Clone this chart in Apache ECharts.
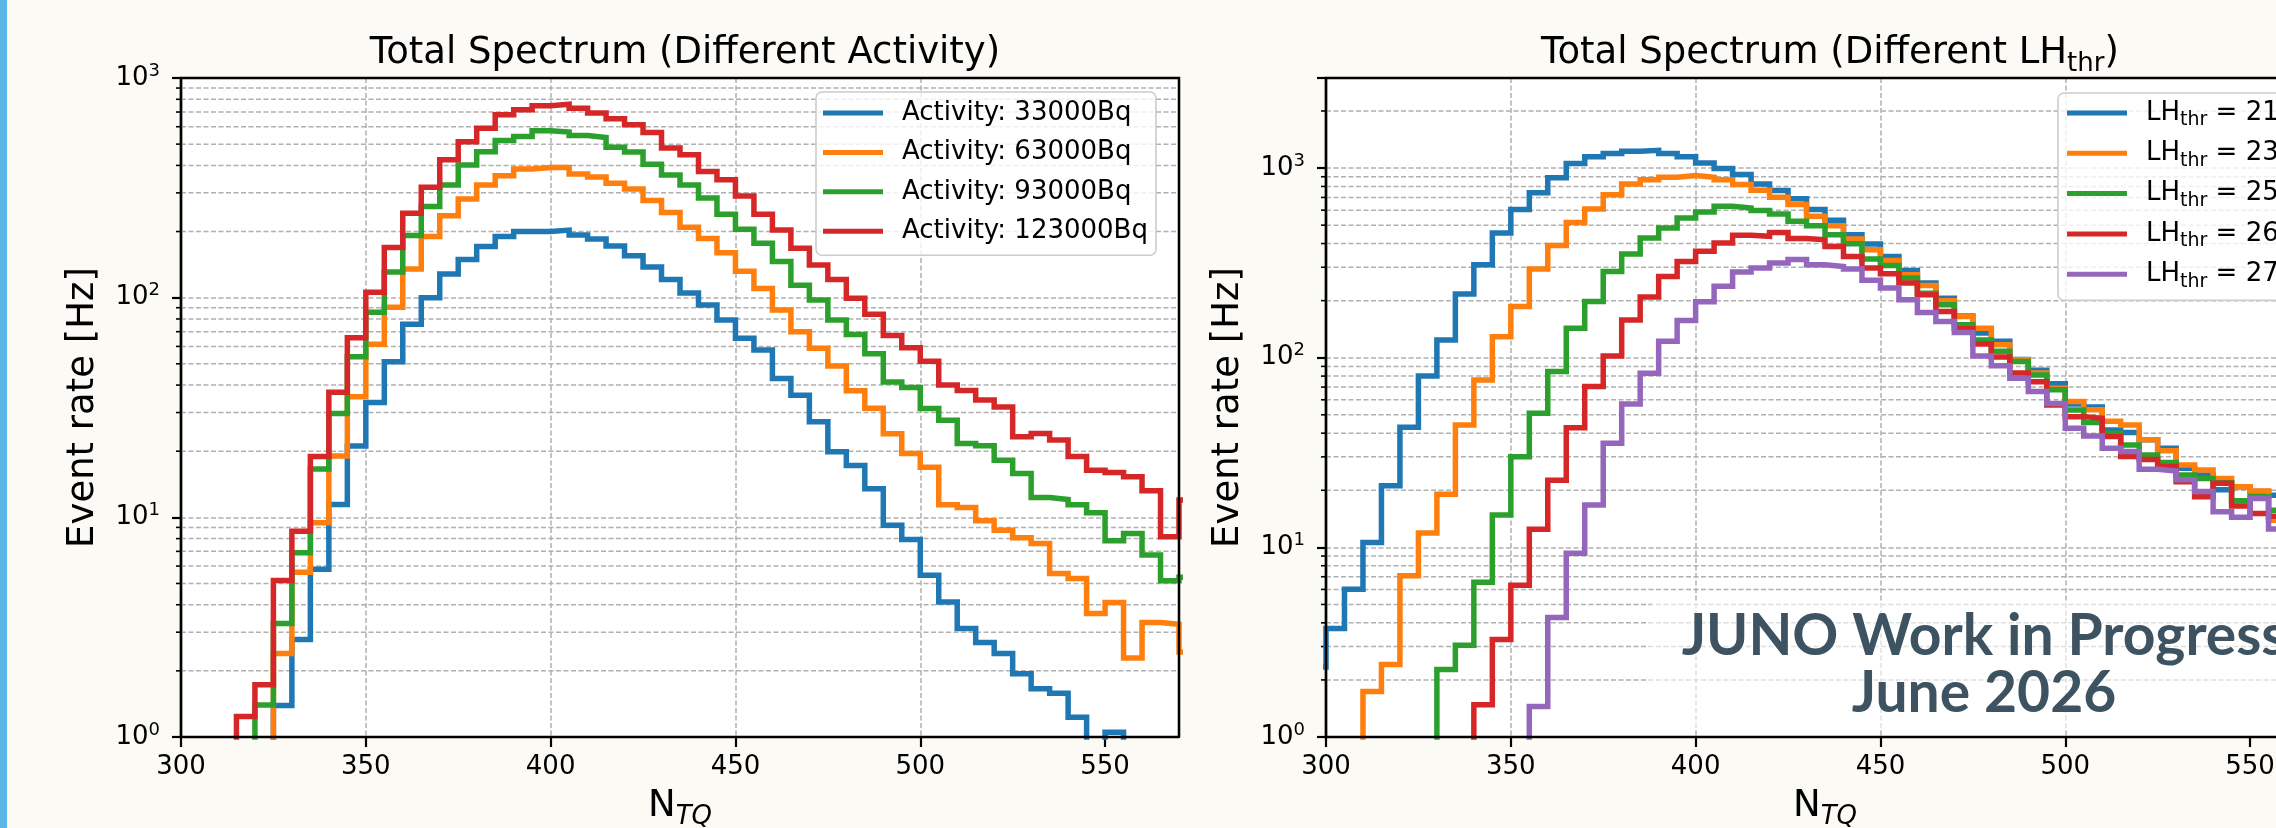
<!DOCTYPE html>
<html>
<head>
<meta charset="utf-8">
<script src="https://cdn.jsdelivr.net/npm/echarts@6/dist/echarts.min.js"></script>
<style>
  html, body { margin: 0; padding: 0; background: #fbfaf4; }
  #chart { width: 2276px; height: 828px; }
</style>
</head>
<body>
<div id="chart"></div>
<script>
// bin edges (N_TQ), one more edge than values to close the last bin
const edgesActivity = [300, 305, 310, 315, 320, 325, 330, 335, 340, 345, 350, 355, 360, 365, 370, 375, 380, 385, 390, 395,
  400, 405, 410, 415, 420, 425, 430, 435, 440, 445, 450, 455, 460, 465, 470, 475, 480, 485, 490, 495,
  500, 505, 510, 515, 520, 525, 530, 535, 540, 545, 550, 555, 560, 565, 570, 575];
const edgesLH = [295, 300, 305, 310, 315, 320, 325, 330, 335, 340, 345, 350, 355, 360, 365, 370, 375, 380, 385, 390, 395,
  400, 405, 410, 415, 420, 425, 430, 435, 440, 445, 450, 455, 460, 465, 470, 475, 480, 485, 490, 495,
  500, 505, 510, 515, 520, 525, 530, 535, 540, 545, 550, 555, 560, 565];

// left panel: event rate per bin [Hz] (0.5 = below the axis)
const activityLabels = ['Activity: 33000Bq', 'Activity: 63000Bq', 'Activity: 93000Bq', 'Activity: 123000Bq'];
const act33000 = [0.5, 0.5, 0.5, 0.5, 0.5, 1.39, 2.78, 5.81, 11.45, 21.1, 33.3, 51.1, 75.7, 100, 128, 149, 171, 190, 200, 200,
  203, 193, 185, 172, 155, 138, 121, 105, 92.6, 79.1, 65.3, 57.8, 42.9, 36.0, 27.2, 19.9, 17.2, 13.5, 9.21, 7.93,
  5.45, 4.12, 3.12, 2.69, 2.40, 1.94, 1.66, 1.58, 1.23, 0.5, 1.05, 0.5, 0.5, 0.5, 0.5];
const act63000 = [0.5, 0.5, 0.5, 0.5, 0.5, 2.40, 5.63, 9.44, 19.0, 35.4, 61.3, 90.4, 135, 190, 236, 281, 326, 359, 385, 391,
  391, 366, 354, 332, 312, 277, 244, 209, 186, 160, 132, 110, 87.9, 70.0, 58.8, 48.8, 37.7, 31.4, 24.0, 19.5,
  16.9, 11.4, 11.1, 9.64, 8.74, 8.07, 7.61, 5.55, 5.27, 3.65, 4.10, 2.29, 3.32, 3.26, 2.44];
const act93000 = [0.5, 0.5, 0.5, 0.5, 1.40, 3.29, 6.89, 16.6, 29.7, 53.9, 85.8, 131, 192, 260, 326, 402, 462, 519, 541, 575,
  567, 547, 536, 484, 460, 405, 362, 326, 284, 240, 205, 177, 146, 114, 97.6, 79.1, 68, 55.5, 41.3, 39,
  31.3, 27.7, 21.7, 21.2, 18.2, 15.85, 12.3, 12.06, 11.4, 10.5, 7.82, 8.45, 6.73, 5.14, 5.34];
const act123000 = [0.5, 0.5, 0.5, 1.24, 1.73, 5.16, 8.65, 18.9, 37.1, 65.7, 105.8, 169, 242, 318, 424, 512, 591, 680, 716, 747,
  760, 729, 692, 652, 612, 565, 480, 447, 375, 344, 290, 240, 203, 168, 141, 121, 99.4, 84, 67.2, 59.2,
  51.3, 40.0, 37.8, 34.2, 31.8, 23.3, 24.1, 22.5, 18.9, 16.4, 16.0, 15.3, 13.2, 8.15, 12.0];

// right panel: event rate per bin [Hz] for the LH thresholds
const lhValues = ['21', '23', '25', '26', '27'];
const lh21 = [2.34, 3.73, 6.02, 10.6, 21.1, 43.0, 80.2, 124, 217, 309, 455, 604, 740, 888, 1056, 1146, 1193, 1226, 1241, 1193,
  1146, 1065, 994, 924, 825, 761, 690, 604, 530, 445, 398, 342, 288, 248, 206, 166, 135, 122, 98, 86,
  73, 57, 55, 41.6, 40.3, 36.9, 33.3, 26.1, 24.1, 20.1, 20.9, 19.7, 18.8, 18.8];
const lh23 = [0.5, 0.5, 0.5, 1.74, 2.41, 7.08, 11.9, 19.05, 44.2, 76.4, 129, 186, 294, 390, 517, 609, 724, 825, 869, 894,
  913, 894, 869, 818, 764, 701, 642, 557, 497, 423, 371, 326, 274, 240, 200, 165, 143, 117, 97.5, 83,
  69, 58.7, 53.1, 46.2, 44.2, 36.9, 32.3, 27.2, 25.6, 23.1, 20.9, 19.8, 13.9, 13.9];
const lh25 = [0.5, 0.5, 0.5, 0.5, 0.5, 0.5, 0.5, 2.27, 3.05, 6.54, 14.8, 30.0, 51.0, 84.6, 143, 198, 285, 352, 428, 483,
  546, 587, 629, 616, 597, 572, 524, 497, 445, 399, 332, 306, 263, 219, 190, 149, 124, 108, 95.5, 81,
  67.7, 53, 45.5, 40.0, 34.7, 30.7, 28.0, 24.1, 23.1, 21.9, 17.6, 18.5, 15.7, 15.7];
const lh26 = [0.5, 0.5, 0.5, 0.5, 0.5, 0.5, 0.5, 0.5, 0.5, 1.48, 3.27, 6.32, 12.45, 22.6, 42.7, 70.5, 102, 158, 209, 268,
  322, 364, 403, 442, 437, 458, 425, 419, 386, 342, 297, 277, 248, 215, 175, 142, 118, 101, 83, 74.8,
  56.4, 48.9, 48.0, 38.4, 30.1, 29.1, 26.7, 22.2, 18.5, 21.8, 16.5, 15.1, 14.6, 14.6];
const lh27 = [0.5, 0.5, 0.5, 0.5, 0.5, 0.5, 0.5, 0.5, 0.5, 0.5, 0.5, 0.5, 1.45, 4.27, 9.3, 16.7, 35.4, 57, 82.9, 122,
  157, 197, 238, 283, 297, 316, 330, 309, 303, 294, 256, 233, 202, 173, 155, 136, 102, 90.6, 78, 66.3,
  57.4, 42.5, 38.7, 33.3, 32.0, 25.8, 25.3, 22.7, 19.7, 15.4, 14.4, 18.1, 12.5, 12.5];

// axes
const xTicks = [300, 350, 400, 450, 500, 550];
const xRange = [300, 570];
const yRangeActivity = [1, 1000];
const yRangeLH = [1, 2985];
const minorTicksActivity = [2, 3, 4, 5, 6, 7, 8, 9, 20, 30, 40, 50, 60, 70, 80, 90, 200, 300, 400, 500, 600, 700, 800, 900];
const minorTicksLH = [2, 3, 4, 5, 6, 7, 8, 9, 20, 30, 40, 50, 60, 70, 80, 90, 200, 300, 400, 500, 600, 700, 800, 900, 2000];

const COLORS = ['#1f77b4', '#ff7f0e', '#2ca02c', '#d62728', '#9467bd'];
const FONT = 'DejaVu Sans';
const GRID_COLOR = '#b0b0b0';
const GRID_W = 1.5;
const SPINE = { color: '#000', width: 2.2 };

function stepPoints(edges, values) {
  const pts = values.map((v, i) => [edges[i], v]);
  pts.push([edges[values.length], values[values.length - 1]]);
  return pts;
}

function histSeries(name, edges, values, color, idx) {
  return {
    name: name,
    type: 'line',
    xAxisIndex: idx,
    yAxisIndex: idx,
    step: 'end',
    data: stepPoints(edges, values),
    symbol: 'none',
    showSymbol: false,
    clip: true,
    z: 3,
    itemStyle: { color: color },
    lineStyle: { color: color, width: 5.5, join: 'miter', cap: 'butt' }
  };
}

// minor log ticks + minor grid lines, placed through the axis scale
function minorSeries(ticks, idx) {
  return {
    type: 'custom',
    xAxisIndex: idx,
    yAxisIndex: idx,
    silent: true,
    z: 1,
    data: ticks.map(v => [xRange[0], v]),
    renderItem: function (params, api) {
      const cs = params.coordSys;
      const y = api.coord([api.value(0), api.value(1)])[1];
      return {
        type: 'group',
        children: [
          { type: 'line', shape: { x1: cs.x, y1: y, x2: cs.x + cs.width, y2: y },
            style: { stroke: GRID_COLOR, lineWidth: GRID_W, lineDash: [5, 2.5] } },
          { type: 'line', shape: { x1: cs.x - 5, y1: y, x2: cs.x, y2: y },
            style: { stroke: '#000', lineWidth: 1.6 } }
        ]
      };
    }
  };
}

// the four spines of a panel, drawn above the data like matplotlib does
function frameSeries(idx) {
  return {
    type: 'custom',
    xAxisIndex: idx,
    yAxisIndex: idx,
    silent: true,
    z: 60,
    data: [[xRange[0], 1]],
    renderItem: function (params) {
      const cs = params.coordSys;
      return {
        type: 'polyline',
        shape: { points: [[cs.x + cs.width, cs.y + cs.height], [cs.x + cs.width, cs.y], [cs.x, cs.y], [cs.x, cs.y + cs.height], [cs.x + cs.width, cs.y + cs.height]] },
        style: { fill: null, stroke: '#000', lineWidth: 2.4 }
      };
    }
  };
}

function xAxis(idx) {
  return {
    gridIndex: idx,
    type: 'value',
    min: xRange[0],
    max: xRange[1],
    interval: 50,
    name: '{n|N}{t|TQ}',
    nameLocation: 'middle',
    nameGap: 45,
    nameTextStyle: {
      rich: {
        n: { fontFamily: FONT, fontSize: 37, color: '#000', lineHeight: 48 },
        t: { fontFamily: FONT, fontSize: 26, fontStyle: 'italic', color: '#000', lineHeight: 28, verticalAlign: 'bottom' }
      }
    },
    axisLine: { show: true, onZero: false, lineStyle: SPINE },
    axisTick: { show: true, length: 10, customValues: xTicks, lineStyle: SPINE },
    axisLabel: { customValues: xTicks, fontFamily: FONT, fontSize: 26, color: '#000', margin: 17 },
    splitLine: { show: true, showMinLine: false, showMaxLine: false, lineStyle: { color: GRID_COLOR, width: GRID_W, type: [5, 2.5] } }
  };
}

function yAxis(idx, range) {
  return {
    gridIndex: idx,
    type: 'log',
    logBase: 10,
    min: range[0],
    max: range[1],
    name: 'Event rate [Hz]',
    nameLocation: 'middle',
    nameGap: 79,
    nameTextStyle: { fontFamily: FONT, fontSize: 37, color: '#000' },
    axisLine: { show: true, onZero: false, lineStyle: SPINE },
    axisTick: { show: true, length: 9, lineStyle: SPINE },
    axisLabel: {
      margin: 21,
      formatter: function (v) {
        const e = Math.log10(v);
        if (Math.abs(e - Math.round(e)) > 1e-6) return '';
        return '{b|10}{s|' + Math.round(e) + '}';
      },
      rich: {
        b: { fontFamily: FONT, fontSize: 26, color: '#000', lineHeight: 32 },
        s: { fontFamily: FONT, fontSize: 18, color: '#000', lineHeight: 18, verticalAlign: 'top' }
      }
    },
    splitLine: { show: true, showMinLine: false, showMaxLine: false, lineStyle: { color: GRID_COLOR, width: GRID_W, type: [5, 2.5] } }
  };
}

function legend(names, left, top, rowH, gap, pad, rich, formatter, textWidth) {
  return {
    data: names,
    orient: 'vertical',
    left: left,
    top: top,
    icon: 'rect',
    itemWidth: 60,
    itemHeight: 5,
    itemGap: gap,
    padding: pad,
    backgroundColor: 'rgba(255,255,255,0.8)',
    borderColor: '#cccccc',
    borderWidth: 1.6,
    borderRadius: 6,
    selectedMode: false,
    formatter: formatter,
    textStyle: {
      fontFamily: FONT, fontSize: 26, color: '#000', lineHeight: rowH,
      padding: [0, 0, 0, 14], width: textWidth, rich: rich
    }
  };
}

function panel(left) {
  return {
    left: left, top: 78, width: 998, height: 659,
    outerBoundsMode: 'none',
    outerBounds: { left: -3000, top: -3000, right: -3000, bottom: -3000 },
    containLabel: false,
    show: true, backgroundColor: '#ffffff', borderColor: '#000', borderWidth: 2.2
  };
}

const lhNames = lhValues.map(v => 'LHthr = ' + v);

const option = {
  animation: false,
  backgroundColor: '#fbfaf4',
  textStyle: { fontFamily: FONT },
  title: [
    {
      text: 'Total Spectrum (Different Activity)',
      left: 680, top: 48, textAlign: 'center', textVerticalAlign: 'middle',
      textStyle: { fontFamily: FONT, fontSize: 37, fontWeight: 'normal', color: '#000' }
    },
    {
      text: '{a|Total Spectrum (Different LH}{s|thr}{a|)}',
      left: 1825, top: 48, textAlign: 'center', textVerticalAlign: 'middle',
      textStyle: {
        fontWeight: 'normal',
        rich: {
          a: { fontFamily: FONT, fontSize: 37, fontWeight: 'normal', color: '#000', lineHeight: 48 },
          s: { fontFamily: FONT, fontSize: 26, fontWeight: 'normal', color: '#000', lineHeight: 28, verticalAlign: 'bottom' }
        }
      }
    }
  ],
  grid: [panel(181), panel(1326)],
  xAxis: [xAxis(0), xAxis(1)],
  yAxis: [yAxis(0, yRangeActivity), yAxis(1, yRangeLH)],
  legend: [
    legend(activityLabels, 816, 92, 30, 9.4, [6, 8, 9, 7], undefined, undefined, undefined),
    legend(lhNames, 2058, 93, 34, 6.3, [3, 8, 9, 9], {
      a: { fontFamily: FONT, fontSize: 26, color: '#000', lineHeight: 34 },
      s: { fontFamily: FONT, fontSize: 19, color: '#000', lineHeight: 20, verticalAlign: 'bottom' }
    }, function (name) {
      return '{a|LH}{s|thr}{a| = ' + name.split('= ')[1] + '}';
    }, 200)
  ],
  graphic: [
    { type: 'rect', left: 0, top: 0, z: 100, shape: { width: 7, height: 828 }, style: { fill: '#5bb5e6' } },
    { type: 'rect', left: 1649, top: 603, z: 50, shape: { width: 700, height: 126, r: 6 }, style: { fill: 'rgba(255,255,255,0.6)' } },
    {
      type: 'text', z: 51, x: 1984, y: 665,
      style: {
        text: 'JUNO Work in Progress\nJune 2026',
        fontFamily: 'Lato', fontWeight: 'bold', fontSize: 57, lineHeight: 57,
        fill: '#3e5361', align: 'center', verticalAlign: 'middle'
      }
    }
  ],
  series: [
    minorSeries(minorTicksActivity, 0),
    minorSeries(minorTicksLH, 1),
    histSeries(activityLabels[0], edgesActivity, act33000, COLORS[0], 0),
    histSeries(activityLabels[1], edgesActivity, act63000, COLORS[1], 0),
    histSeries(activityLabels[2], edgesActivity, act93000, COLORS[2], 0),
    histSeries(activityLabels[3], edgesActivity, act123000, COLORS[3], 0),
    histSeries(lhNames[0], edgesLH, lh21, COLORS[0], 1),
    histSeries(lhNames[1], edgesLH, lh23, COLORS[1], 1),
    histSeries(lhNames[2], edgesLH, lh25, COLORS[2], 1),
    histSeries(lhNames[3], edgesLH, lh26, COLORS[3], 1),
    histSeries(lhNames[4], edgesLH, lh27, COLORS[4], 1),
    frameSeries(0),
    frameSeries(1)
  ]
};

const chart = echarts.init(document.getElementById('chart'));
chart.setOption(option);
</script>
</body>
</html>
